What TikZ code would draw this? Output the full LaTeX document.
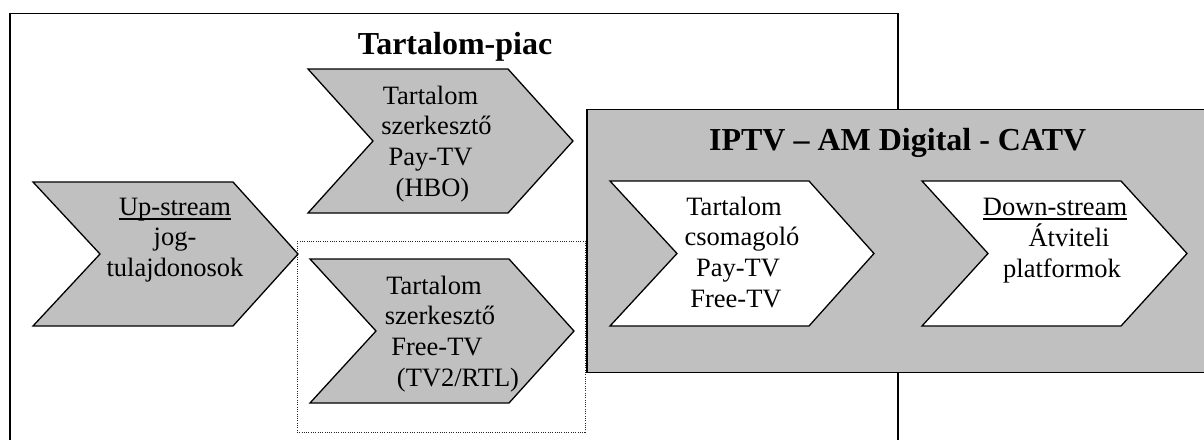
\documentclass[tikz,border=0pt]{standalone}
\usepackage{fontspec}
\setmainfont{Liberation Serif}
\definecolor{boxgray}{HTML}{C0C0C0}
\tikzset{
  frame/.style={draw=black, line width=1.3pt},
  chevgray/.style={draw=black, line width=1.3pt, fill=boxgray, line join=miter},
  chevwhite/.style={draw=black, line width=1.3pt, fill=white, line join=miter},
  dottedbox/.style={draw=black!85, line width=0.9pt, dash pattern=on 0.9pt off 1.4pt},
  titletext/.style={inner sep=0pt, anchor=base, font=\fontsize{32}{38}\selectfont\bfseries},
  bodytext/.style={inner sep=0pt, anchor=base, font=\fontsize{26.5}{30.8}\selectfont},
}
% chevron: style, left, notch, right, tip, top, bottom
\newcommand\chevpath[7]{%
  \draw[#1] (#2,#6) -- (#4,#6) -- (#5,{(#6+#7)/2}) -- (#4,#7) -- (#2,#7) -- (#3,{(#6+#7)/2}) -- cycle;}
% one centred line, shifted right by #1
\newcommand\Ln[2][0pt]{\makebox[0pt]{\hspace*{#1}#2\hspace*{-#1}}}
\newcommand\ulword[1]{\setbox0\hbox{#1}\rlap{\rule[-4.5pt]{\wd0}{1.3pt}}\box0}
\begin{document}
\begin{tikzpicture}[x=1pt,y=-1pt]
\useasboundingbox (0,0) rectangle (1204,440);
% outer market frame
\draw[frame] (10,440) -- (10,13.3) -- (898,13.3) -- (898,440);
% dotted frame round Free-TV
\draw[dottedbox] (297,241) rectangle (585,432);
% IPTV box
\fill[boxgray] (587,109.3) rectangle (1204,372.7);
\draw[frame] (1204,109.3) -- (587,109.3) -- (587,372.7) -- (1204,372.7);
% chevrons
\chevpath{chevgray}{33}{100}{233}{298}{182}{326}
\chevpath{chevgray}{308}{373}{508}{573}{69}{213}
\chevpath{chevgray}{310}{376}{509}{574}{259}{403}
\chevpath{chevwhite}{610}{677}{809}{874}{181}{326}
\chevpath{chevwhite}{922}{988}{1121}{1187}{181}{326}
% titles
\node[titletext] (piac) at (455,54) {Tartalom-piac};
\node[titletext] (iptv) at (897.7,150.7) {IPTV – AM Digital - CATV};
% chevron texts
\node[bodytext] (up) at (175,215) {\begin{tabular}[t]{@{}c@{}}
  \Ln{\ulword{Up-stream}}\\ \Ln{jog-}\\ \Ln{tulajdonosok}\end{tabular}};
\node[bodytext] (hbo) at (430.5,104) {\begin{tabular}[t]{@{}c@{}}
  \Ln{Tartalom}\\ \Ln[6pt]{szerkesztő}\\ \Ln{Pay-TV}\\ \Ln[2pt]{(HBO)}\end{tabular}};
\node[bodytext] (free) at (434,294) {\begin{tabular}[t]{@{}c@{}}
  \Ln{Tartalom}\\ \Ln[6pt]{szerkesztő}\\ \Ln[3pt]{Free-TV}\\ \Ln[24pt]{(TV2/RTL)}\end{tabular}};
\node[bodytext] (pack) at (736,215) {\begin{tabular}[t]{@{}c@{}}
  \Ln[-2pt]{Tartalom}\\ \Ln[6pt]{csomagoló}\\ \Ln[2pt]{Pay-TV}\\ \Ln{Free-TV}\end{tabular}};
\node[bodytext] (down) at (1055,215) {\begin{tabular}[t]{@{}c@{}}
  \Ln{\ulword{Down-stream}}\\ \Ln[14pt]{Átviteli}\\ \Ln[7pt]{platformok}\end{tabular}};
\end{tikzpicture}
\end{document}
